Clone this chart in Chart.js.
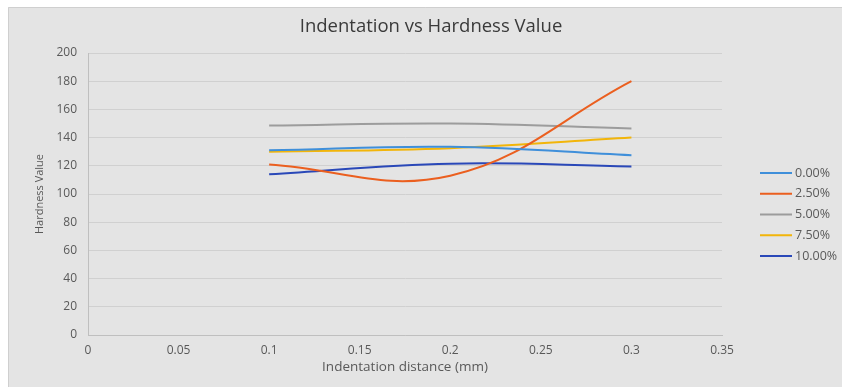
<!DOCTYPE html>
<html>
<head>
<meta charset="utf-8">
<script src="https://cdn.jsdelivr.net/npm/chart.js@4/dist/chart.umd.min.js"></script>
<style>
  html, body { margin: 0; padding: 0; background: #ffffff; }
  #wrap { position: absolute; left: 0; top: 0; width: 842px; height: 387px; }
</style>
</head>
<body>
<div id="wrap"><canvas id="c" width="842" height="387"></canvas></div>
<script>
// Indentation distance (mm) at which hardness was measured
const distances = [0.1, 0.2, 0.3];

// Hardness value per filler content
const hard000 = [131, 133.5, 127.5];
const hard250 = [121, 113, 180];
const hard500 = [148.5, 150, 146.5];
const hard750 = [130, 132.5, 140];
const hard1000 = [114, 121.5, 119.5];

const seriesLabels = ['0.00%', '2.50%', '5.00%', '7.50%', '10.00%'];
const seriesValues = [hard000, hard250, hard500, hard750, hard1000];
const seriesColors = ['#3f8fda', '#eb5f1f', '#9c9c9c', '#f2b50a', '#2a48b8'];

const xTicks = [0, 0.05, 0.1, 0.15, 0.2, 0.25, 0.3, 0.35];

const FONT = '"Open Sans", "Noto Sans", sans-serif';
const TEXT = '#595959';

const datasets = seriesValues.map((vals, i) => ({
  label: seriesLabels[i],
  data: distances.map((x, j) => ({ x: x, y: vals[j] })),
  borderColor: seriesColors[i],
  backgroundColor: seriesColors[i],
  borderWidth: 2,
  showLine: true,
  pointRadius: 0,
  pointHoverRadius: 0,
  tension: 0.4,
  fill: false
}));

// Panel, title, axis titles and legend
const decor = {
  id: 'decor',
  beforeDraw(chart) {
    const ctx = chart.ctx;
    ctx.save();
    ctx.fillStyle = '#ffffff';
    ctx.fillRect(0, 0, chart.width, chart.height);
    ctx.fillStyle = '#e4e4e4';
    ctx.fillRect(8, 7, chart.width - 8, chart.height - 7);
    ctx.strokeStyle = '#cfcfcf';
    ctx.lineWidth = 1;
    ctx.beginPath();
    ctx.moveTo(8.5, chart.height);
    ctx.lineTo(8.5, 7.5);
    ctx.lineTo(chart.width, 7.5);
    ctx.stroke();
    ctx.restore();
  },
  afterDraw(chart) {
    const ctx = chart.ctx;
    const area = chart.chartArea;
    ctx.save();
    // chart title
    ctx.fillStyle = '#3a3a3a';
    ctx.font = '18.5px ' + FONT;
    ctx.textAlign = 'center';
    ctx.textBaseline = 'middle';
    ctx.fillText('Indentation vs Hardness Value', 431, 27);
    // axis titles
    ctx.fillStyle = TEXT;
    ctx.font = '13.5px ' + FONT;
    ctx.fillText('Indentation distance (mm)', (area.left + area.right) / 2, 367);
    ctx.save();
    ctx.translate(40, (area.top + area.bottom) / 2);
    ctx.rotate(-Math.PI / 2);
    ctx.font = '11px ' + FONT;
    ctx.fillText('Hardness Value', 0, 0);
    ctx.restore();
    // legend
    ctx.font = '12.5px ' + FONT;
    ctx.textAlign = 'left';
    chart.data.datasets.forEach((ds, i) => {
      const y = 173 + i * 20.75;
      ctx.strokeStyle = ds.borderColor;
      ctx.lineWidth = 2;
      ctx.beginPath();
      ctx.moveTo(760, y);
      ctx.lineTo(792, y);
      ctx.stroke();
      ctx.fillStyle = TEXT;
      ctx.fillText(ds.label, 795, y);
    });
    ctx.restore();
  }
};

new Chart(document.getElementById('c'), {
  type: 'scatter',
  data: { datasets: datasets },
  options: {
    responsive: false,
    animation: false,
    events: [],
    layout: { padding: { left: 0, top: 53, right: 120, bottom: 0 } },
    plugins: {
      legend: { display: false },
      title: { display: false },
      tooltip: { enabled: false }
    },
    scales: {
      x: {
        type: 'linear',
        min: 0,
        max: 0.35,
        afterBuildTicks(scale) { scale.ticks = xTicks.map(v => ({ value: v })); },
        afterFit(scale) { scale.height = 52; },
        grid: { display: false, drawTicks: false },
        border: { display: true, color: '#bfbfbf', width: 1 },
        ticks: {
          color: TEXT,
          font: { family: FONT, size: 12 },
          padding: 8,
          callback: v => String(v)
        }
      },
      y: {
        min: 0,
        max: 200,
        afterFit(scale) { scale.width = 88; },
        grid: { color: '#d0d0d0', lineWidth: 1, drawTicks: false },
        border: { display: true, color: '#bfbfbf', width: 1 },
        ticks: {
          stepSize: 20,
          color: TEXT,
          font: { family: FONT, size: 12 },
          padding: 11
        }
      }
    }
  },
  plugins: [decor]
});
</script>
</body>
</html>
